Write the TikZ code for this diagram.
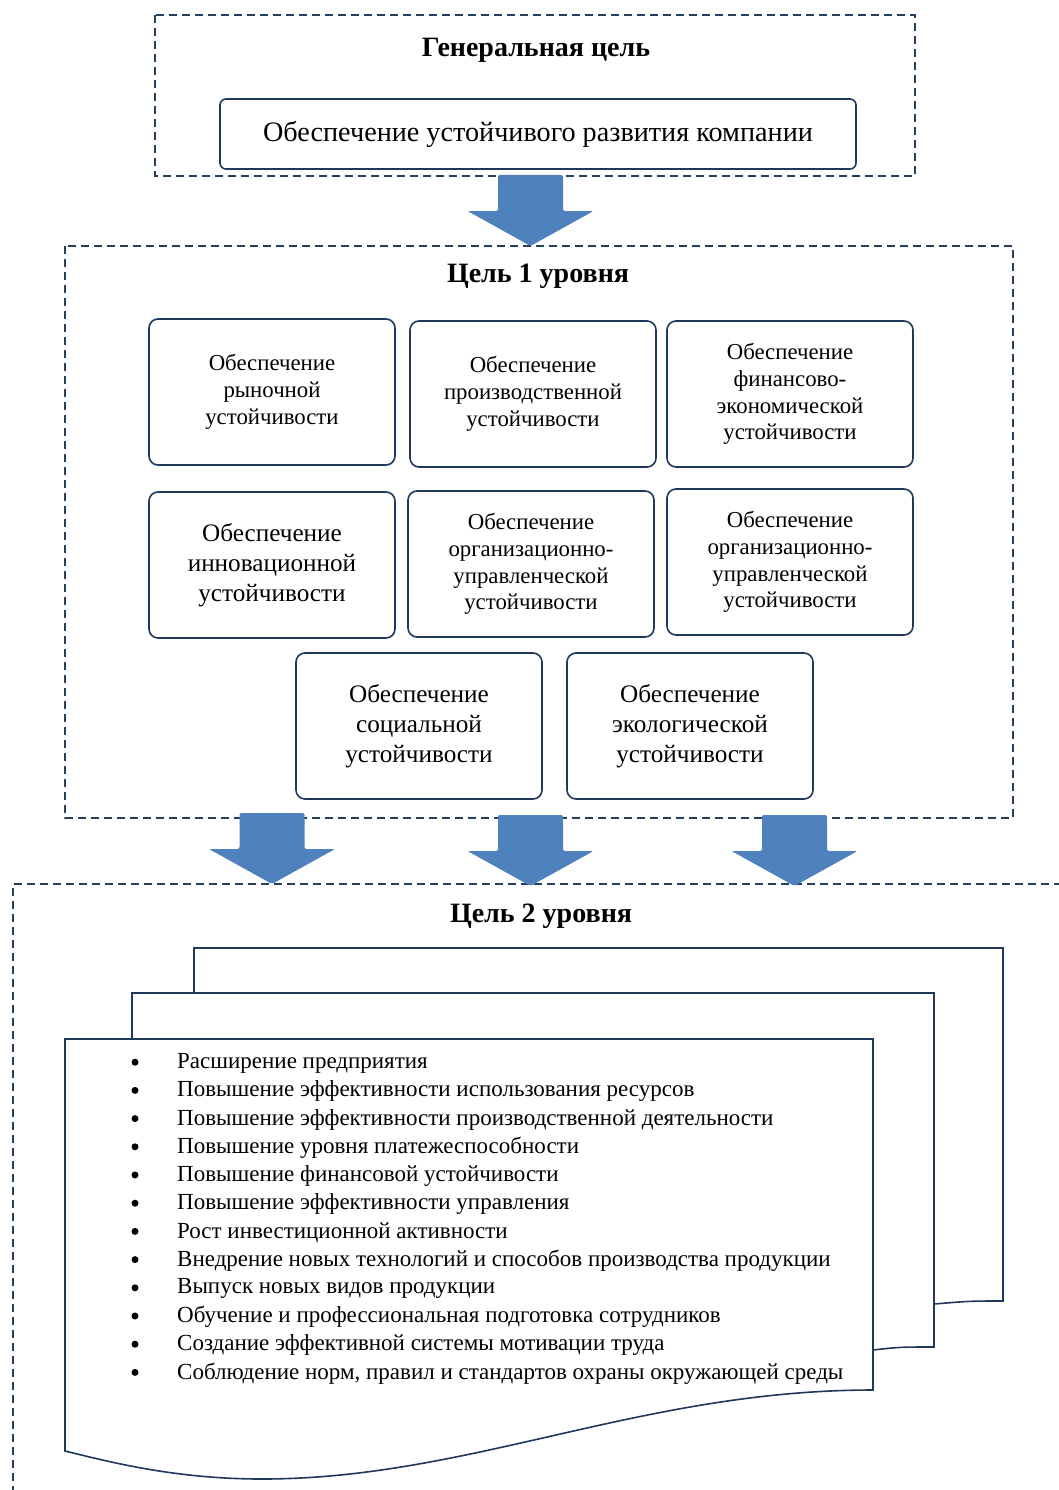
\documentclass[tikz,border=0pt]{standalone}
\usepackage{fontspec}
\setmainfont{Liberation Serif}
\usepackage{tikz}
\usetikzlibrary{positioning}
\definecolor{framenavy}{RGB}{36,63,96}
\definecolor{boxnavy}{RGB}{31,56,92}
\definecolor{arrowblue}{RGB}{79,129,189}

\tikzset{
  dashframe/.style={draw=framenavy, line width=2.8pt, dash pattern=on 8pt off 5pt},
  goalbox/.style={draw=boxnavy, fill=white, line width=1.6pt, rounded corners=9pt,
    minimum width=246pt, minimum height=146pt, text width=240pt, align=center, inner sep=0pt},
  smalltext/.style={font=\fontsize{22.8}{26.8}\selectfont},
  bigtext/.style={font=\fontsize{25.2}{30}\selectfont},
  titletext/.style={font=\fontsize{28}{32}\selectfont\bfseries},
  page/.style={draw=boxnavy, fill=white, line width=1.6pt},
  bulletdot/.style={circle, fill=black, inner sep=0pt, minimum size=7pt},
  downarrow/.pic={
    \fill[arrowblue, rounded corners=2pt] (-32.5,0) -- (32.5,0) -- (32.5,36) -- (63,36)
      -- (0,71) -- (-63,36) -- (-32.5,36) -- cycle;
  }
}

\begin{document}
\begin{tikzpicture}[x=1pt, y=-1pt]
  \useasboundingbox (0,0) rectangle (1058,1490);

  % general goal
  \draw[dashframe] (155,15) rectangle (915,176);
  \node[titletext] (gentitle) at (536,50) {Генеральная цель};
  \node[draw=boxnavy, line width=1.6pt, rounded corners=6pt, minimum width=636pt, minimum height=70pt,
    font=\fontsize{28.2}{32}\selectfont] (gengoal) at (538,134) {Обеспечение устойчивого развития компании};

  % level 1
  \draw[dashframe] (65,246) rectangle (1013,818);
  \node[titletext] (lvlonetitle) at (538,276) {Цель 1 уровня};

  \node[goalbox, smalltext] (market) at (272,392) {Обеспечение\\рыночной\\устойчивости};
  \node[goalbox, smalltext] (product) at (533,394) {Обеспечение\\производственной\\устойчивости};
  \node[goalbox, smalltext] (finance) at (790,394) {Обеспечение\\финансово-\\экономической\\устойчивости};

  \node[goalbox, bigtext] (innov) at (272,565) {Обеспечение\\инновационной\\устойчивости};
  \node[goalbox, smalltext] (orgone) at (531,564) {Обеспечение\\организационно-\\управленческой\\устойчивости};
  \node[goalbox, smalltext] (orgtwo) at (790,562) {Обеспечение\\организационно-\\управленческой\\устойчивости};

  \node[goalbox, bigtext] (social) at (419,726) {Обеспечение\\социальной\\устойчивости};
  \node[goalbox, bigtext] (ecology) at (690,726) {Обеспечение\\экологической\\устойчивости};

  % level 2
  \draw[dashframe] (1062,884) -- (13,884) -- (13,1494);
  \node[titletext] (lvltwotitle) at (541,916) {Цель 2 уровня};

  \draw[page] (194,948) -- (1003,948) -- (1003,1301) .. controls (970,1301) .. (934,1304) -- (194,1304) -- cycle;
  \draw[page] (132,993) -- (934,993) -- (934,1347) .. controls (900,1347) .. (873,1350) -- (132,1350) -- cycle;
  \draw[page] (65,1039) -- (873,1039) -- (873,1390)
    .. controls (640,1390) and (470,1479) .. (262,1479)
    .. controls (175,1479) and (110,1462) .. (65,1451) -- cycle;

  \foreach \item [count=\i] in {
    Расширение предприятия,
    Повышение эффективности использования ресурсов,
    Повышение эффективности производственной деятельности,
    Повышение уровня платежеспособности,
    Повышение финансовой устойчивости,
    Повышение эффективности управления,
    Рост инвестиционной активности,
    Внедрение новых технологий и способов производства продукции,
    Выпуск новых видов продукции,
    Обучение и профессиональная подготовка сотрудников,
    Создание эффективной системы мотивации труда,
    {Соблюдение норм, правил и стандартов охраны окружающей среды}} {
    \node[bulletdot] (dot\i) at (135,1034+28.2*\i) {};
    \node[anchor=west, inner sep=0pt, font=\fontsize{23}{27}\selectfont] (item\i) at (177,1035+28.2*\i) {\item};
  }

  % arrows between levels
  \pic at (530.5,175) {downarrow};
  \foreach \ax/\ay in {272/813, 530.5/815, 794.5/815}
    \pic at (\ax,\ay) {downarrow};
\end{tikzpicture}
\end{document}
